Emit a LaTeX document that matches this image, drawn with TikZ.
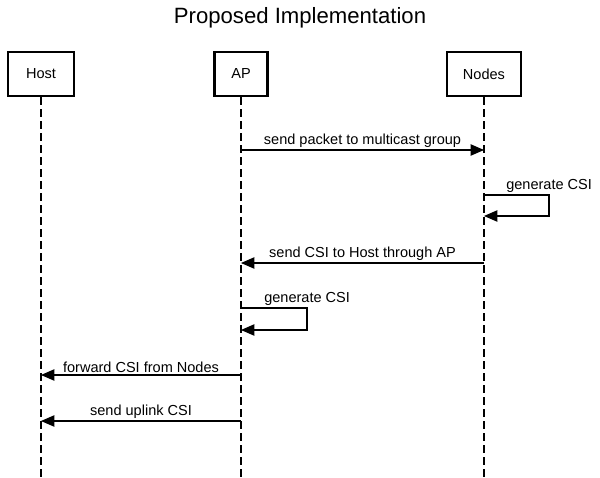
\documentclass[tikz,border=0pt]{standalone}
\usepackage{fontspec}
\setmainfont{Liberation Sans}
\usetikzlibrary{arrows.meta}
\tikzset{
  actor/.style={draw, line width=2.1pt, minimum height=33pt, inner sep=0pt, font=\fontsize{10.9}{13}\selectfont},
  life/.style={dash pattern=on 6pt off 3pt, line width=0.9pt},
  msg/.style={-{Triangle[length=10pt,width=8.5pt]}, line width=0.8pt},
  lbl/.style={font=\fontsize{10.9}{13}\selectfont, inner sep=1.5pt}
}
\begin{document}
\begin{tikzpicture}[x=0.75pt, y=-0.75pt]
  \useasboundingbox (0,0) rectangle (600,478);
  % title
  \node[font=\fontsize{16.6}{20}\selectfont] (title) at (300,18) {Proposed Implementation};
  % participants
  \node[actor, minimum width=49.5pt] (Host) at (41,74) {Host};
  \node[actor, minimum width=40pt] (AP) at (241,74) {AP};
  \node[actor, minimum width=55.5pt] (Nodes) at (484,74) {Nodes};
  % lifelines
  \coordinate (Host-end) at (41,478);
  \coordinate (AP-end) at (241,478);
  \coordinate (Nodes-end) at (484,478);
  \draw[life] (Host) -- (Host-end);
  \draw[life] (AP) -- (AP-end);
  \draw[life] (Nodes) -- (Nodes-end);
  % messages
  \coordinate (ap1) at (241,150);  \coordinate (nd1) at (484,150);
  \draw[msg] (ap1) -- node[lbl, above] {send packet to multicast group} (nd1);

  \coordinate (nd2) at (484,195);  \coordinate (nd3) at (484,216);
  \draw[msg] (nd2) -- (549,195) -- (549,216) -- (nd3);
  \node[lbl, anchor=south west] (gen1) at (504,195) {generate CSI};

  \coordinate (nd4) at (484,263);  \coordinate (ap4) at (241,263);
  \draw[msg] (nd4) -- node[lbl, above] {send CSI to Host through AP} (ap4);

  \coordinate (ap5) at (241,308);  \coordinate (ap6) at (241,330);
  \draw[msg] (ap5) -- (307,308) -- (307,330) -- (ap6);
  \node[lbl, anchor=south west] (gen2) at (262,308) {generate CSI};

  \coordinate (ap7) at (241,375);  \coordinate (ho7) at (41,375);
  \draw[msg] (ap7) -- node[lbl, above] {forward CSI from Nodes} (ho7);

  \coordinate (ap8) at (241,421);  \coordinate (ho8) at (41,421);
  \draw[msg] (ap8) -- node[lbl, above] {send uplink CSI} (ho8);
\end{tikzpicture}
\end{document}
